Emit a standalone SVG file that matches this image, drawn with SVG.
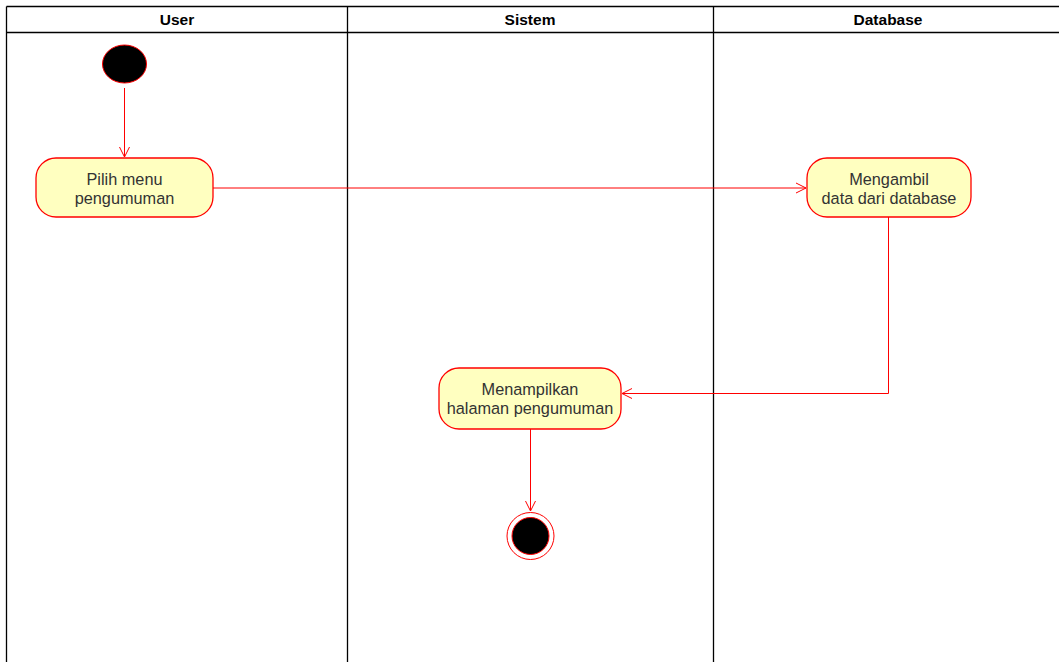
<svg xmlns="http://www.w3.org/2000/svg" width="1059" height="662" viewBox="0 0 1059 662">
<style>
.lane{fill:none;stroke:#000;stroke-width:1.3}
.hdr{font-family:"Liberation Sans",Arial,sans-serif;font-size:15.5px;font-weight:bold;fill:#000;text-anchor:middle}
.act{fill:#ffffc0;stroke:#ff0000;stroke-width:1.3}
.lbl{font-family:"Liberation Sans",Arial,sans-serif;font-size:16.3px;fill:#333;text-anchor:middle}
.edge{fill:none;stroke:#ff0000;stroke-width:1}
</style>
<defs>
<marker id="arr" viewBox="0 0 12 12" refX="11" refY="6" markerWidth="12" markerHeight="12" markerUnits="userSpaceOnUse" orient="auto">
<path d="M1,1 L11,6 L1,11" fill="none" stroke="#ff0000" stroke-width="1"/>
</marker>
</defs>
<rect width="1059" height="662" fill="#fff"/>
<g id="lanes">
<line class="lane" x1="6.5" y1="6.5" x2="1070" y2="6.5"/>
<line class="lane" x1="6.5" y1="32.5" x2="1070" y2="32.5"/>
<line class="lane" x1="6.5" y1="6.5" x2="6.5" y2="662"/>
<line class="lane" x1="347.5" y1="6.5" x2="347.5" y2="662"/>
<line class="lane" x1="713.5" y1="6.5" x2="713.5" y2="662"/>
<text class="hdr" x="177" y="25">User</text>
<text class="hdr" x="530" y="25">Sistem</text>
<text class="hdr" x="888" y="25">Database</text>
</g>
<g id="start">
<ellipse cx="124.5" cy="64" rx="22" ry="19" fill="#000" stroke="#ff0000" stroke-width="1"/>
</g>
<g id="pilih">
<rect class="act" x="36" y="158" width="177" height="59" rx="20" ry="20"/>
<text class="lbl" x="124.5" y="185">Pilih menu</text>
<text class="lbl" x="124.5" y="204">pengumuman</text>
</g>
<g id="mengambil">
<rect class="act" x="807" y="158" width="164" height="59" rx="20" ry="20"/>
<text class="lbl" x="889" y="185">Mengambil</text>
<text class="lbl" x="889" y="204">data dari database</text>
</g>
<g id="menampilkan">
<rect class="act" x="439" y="368" width="182" height="61" rx="20" ry="20"/>
<text class="lbl" x="530" y="395">Menampilkan</text>
<text class="lbl" x="530" y="414">halaman pengumuman</text>
</g>
<g id="end">
<circle cx="530.5" cy="536" r="23.5" fill="none" stroke="#ff0000" stroke-width="1"/>
<circle cx="530.5" cy="536" r="18.5" fill="#000" stroke="#ff0000" stroke-width="1"/>
</g>
<g id="connectors">
<path class="edge" d="M124.5,88 L124.5,157" marker-end="url(#arr)"/>
<path class="edge" d="M213,188 L806,188" marker-end="url(#arr)"/>
<path class="edge" d="M888.5,217 L888.5,393.5 L622,393.5" marker-end="url(#arr)"/>
<path class="edge" d="M530.5,429 L530.5,511" marker-end="url(#arr)"/>
</g>
</svg>
